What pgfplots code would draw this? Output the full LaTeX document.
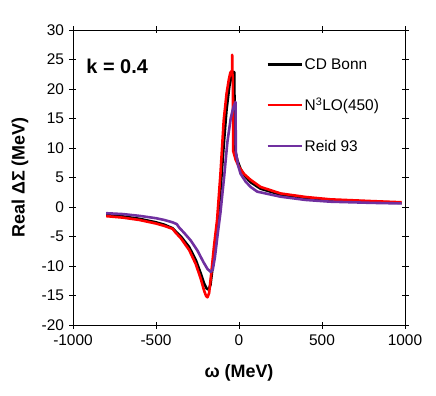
\documentclass[border=0pt]{standalone}
\usepackage{fontspec}
\setmainfont{Liberation Sans}
\usepackage{pgfplots}
\pgfplotsset{compat=1.18}
\definecolor{reidpurple}{HTML}{7030A0}

\begin{document}
\begin{tikzpicture}
\begin{axis}[
    width=332bp, height=295bp,
    scale only axis,
    xmin=-1000, xmax=1000,
    ymin=-20, ymax=30,
    xtick={-1000,-500,0,500,1000},
    ytick={-20,-15,...,30},
    tick align=center,
    major tick length=7bp,
    axis line style={line width=0.9bp},
    every tick/.style={black, line width=0.9bp},
    tick label style={font=\fontsize{15.5}{17}\selectfont},
    /pgf/number format/assume math mode=true,
    /pgf/number format/1000 sep={},
    xticklabel style={yshift=-3bp},
    yticklabel style={xshift=-2bp},
    xlabel={\bfseries ω (MeV)},
    ylabel={\bfseries Real ΔΣ (MeV)},
    label style={font=\fontsize{18}{20}\selectfont},
    xlabel style={at={(axis description cs:0.5,-0.163)}, anchor=center},
    ylabel style={at={(axis description cs:-0.16,0.5)}, anchor=center},
    legend style={at={(rel axis cs:0.582,0.911)}, anchor=north west,
        draw=none, fill=none, font=\fontsize{15.5}{17}\selectfont,
        row sep=23.5bp, inner sep=0pt},
    legend cell align=left,
    legend image code/.code={\draw[#1, line width=2.2bp] (0bp,0bp) -- (34bp,0bp);},
    every axis plot/.append style={line width=2.6bp, line join=round},
]
\addplot[black] coordinates {
(-800,-1.35) (-700,-1.6) (-600,-2.0) (-500,-2.6) (-450,-3.0) (-400,-3.6)
(-380,-4.2) (-350,-5.0) (-300,-6.8) (-260,-9.0) (-230,-11.3) (-210,-13.0)
(-195,-13.8) (-183,-14.0) (-172,-13.2) (-160,-10.5) (-145,-6.5) (-128,-2.2)
(-110,3.5) (-92,10.5) (-75,16.5) (-58,20.5) (-45,22.2) (-32,22.9) (-28,22.8)
(-26,10.0) (-10,7.9) (10,6.4) (40,5.1) (70,4.2) (130,3.1) (250,2.1)
(400,1.5) (550,1.15) (800,0.9) (980,0.7)
};
\addlegendentry{CD Bonn}
\addplot[red] coordinates {
(-800,-1.55) (-700,-1.8) (-600,-2.2) (-500,-2.8) (-450,-3.2) (-400,-3.7)
(-380,-4.4) (-350,-5.3) (-300,-7.3) (-260,-9.7) (-230,-12.2) (-210,-14.2)
(-198,-15.1) (-190,-15.3) (-180,-14.6) (-168,-11.5) (-150,-6.5) (-132,-2.2)
(-112,5.5) (-92,14.7) (-75,19.2) (-62,21.5) (-52,22.8) (-45,23.0)
(-42,22.6) (-41,25.8) (-40,22.6) (-37,22.0) (-35,9.5) (-20,8.0) (0,6.8)
(30,5.6) (70,4.6) (130,3.4) (250,2.3) (400,1.7) (550,1.3) (800,1.0) (980,0.8)
};
\addlegendentry{N\textsuperscript{3}LO(450)}
\addplot[reidpurple] coordinates {
(-800,-1.05) (-700,-1.2) (-600,-1.5) (-500,-1.9) (-450,-2.2) (-400,-2.6)
(-375,-2.9) (-360,-3.5) (-330,-4.4) (-290,-5.7) (-250,-7.4) (-215,-9.3)
(-190,-10.5) (-170,-11.0) (-158,-10.6) (-145,-8.5) (-128,-4.5) (-112,-1.0)
(-90,5.0) (-70,11.0) (-50,15.0) (-35,16.8) (-21,17.8) (-19,9.3) (-5,7.0)
(10,5.6) (40,4.3) (70,3.4) (110,2.6) (250,1.75) (400,1.2) (550,0.9)
(800,0.7) (980,0.6)
};
\addlegendentry{Reid 93}
\node[anchor=west, inner sep=0pt, font=\fontsize{20}{22}\selectfont\bfseries]
    at (rel axis cs:0.04,0.875) {k = 0.4};
\coordinate (sw) at (rel axis cs:0,0);
\coordinate (ne) at (rel axis cs:1,1);
\end{axis}
\pgfresetboundingbox
\path[use as bounding box] ([shift={(-73bp,-71bp)}]sw) rectangle ([shift={(31bp,30bp)}]ne);
\end{tikzpicture}
\end{document}
